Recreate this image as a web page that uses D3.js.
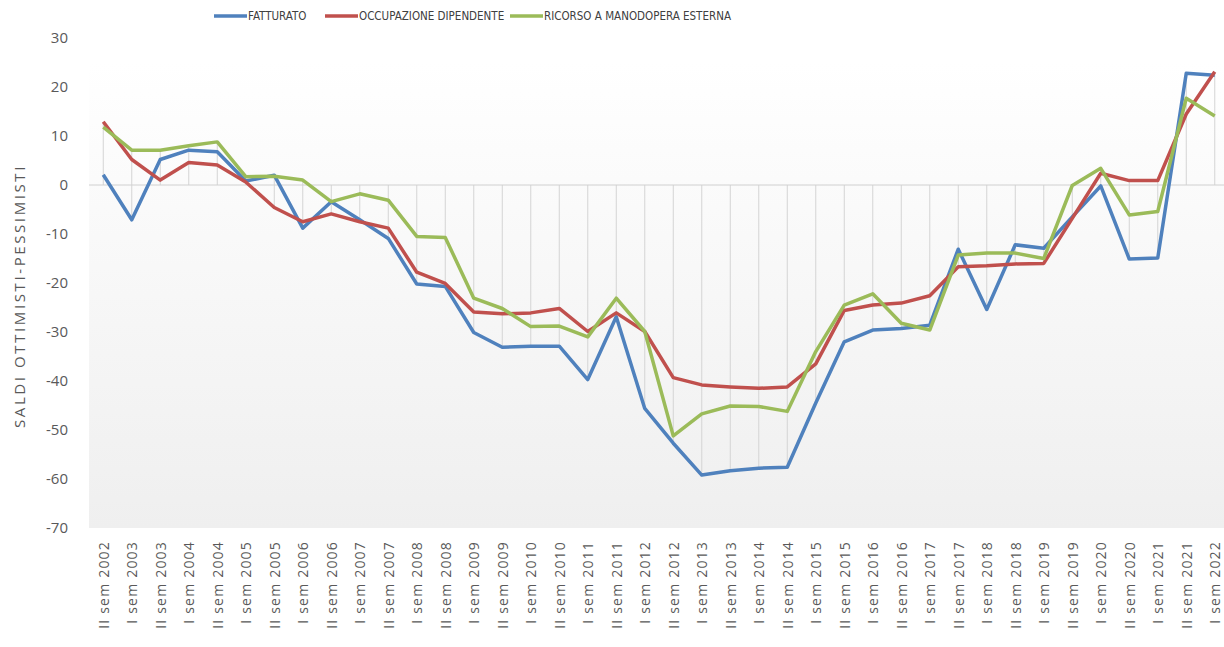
<!DOCTYPE html>
<html>
<head>
<meta charset="utf-8">
<title>Saldi ottimisti-pessimisti</title>
<style>
  body { margin: 0; background: #fff; font-family: "Open Sans", sans-serif; }
  .axis text { fill: #595959; }
  .line { fill: none; stroke-width: 3.5; stroke-linejoin: round; }
</style>
</head>
<body>
<svg width="1224" height="647"></svg>
<script src="https://cdn.jsdelivr.net/npm/d3@7"></script>
<script>
// categories (semesters)
var periods = ["II sem 2002",
  "I sem 2003", "II sem 2003", "I sem 2004", "II sem 2004", "I sem 2005", "II sem 2005",
  "I sem 2006", "II sem 2006", "I sem 2007", "II sem 2007", "I sem 2008", "II sem 2008",
  "I sem 2009", "II sem 2009", "I sem 2010", "II sem 2010", "I sem 2011", "II sem 2011",
  "I sem 2012", "II sem 2012", "I sem 2013", "II sem 2013", "I sem 2014", "II sem 2014",
  "I sem 2015", "II sem 2015", "I sem 2016", "II sem 2016", "I sem 2017", "II sem 2017",
  "I sem 2018", "II sem 2018", "I sem 2019", "II sem 2019", "I sem 2020", "II sem 2020",
  "I sem 2021", "II sem 2021", "I sem 2022"];

var fatturato = [2.1, -7.1, 5.2, 7.1, 6.8, 0.8, 2.0, -8.8, -3.4, -7.1, -10.9, -20.2, -20.7,
  -30.1, -33.1, -32.9, -32.9, -39.7, -26.9, -45.6, -52.7, -59.2, -58.3, -57.8, -57.6,
  -44.5, -32.0, -29.6, -29.3, -28.6, -13.1, -25.4, -12.2, -12.9, -6.5, -0.2, -15.1, -14.9,
  22.8, 22.4];

var occupazione = [12.9, 5.2, 1.0, 4.6, 4.1, 0.6, -4.6, -7.5, -5.9, -7.5, -8.8, -17.8, -20.1,
  -25.9, -26.3, -26.1, -25.2, -29.9, -26.1, -29.9, -39.3, -40.8, -41.2, -41.5, -41.2,
  -36.5, -25.6, -24.5, -24.1, -22.6, -16.7, -16.5, -16.1, -16.0, -6.8, 2.4, 0.9, 0.9,
  14.5, 23.1];

var manodopera = [11.8, 7.1, 7.1, 8.0, 8.8, 1.7, 1.8, 1.0, -3.4, -1.8, -3.1, -10.5, -10.7,
  -23.1, -25.2, -28.9, -28.8, -31.0, -23.1, -29.9, -51.2, -46.7, -45.1, -45.2, -46.2,
  -34.0, -24.5, -22.2, -28.2, -29.6, -14.3, -13.9, -13.9, -15.0, -0.1, 3.4, -6.1, -5.4,
  17.7, 14.1];

var seriesNames = ["FATTURATO", "OCCUPAZIONE DIPENDENTE", "RICORSO A MANODOPERA ESTERNA"];
var seriesColors = ["#4f81bd", "#c0504d", "#9bbb59"];
var yTicks = [30, 20, 10, 0, -10, -20, -30, -40, -50, -60, -70];

var series = [fatturato, occupazione, manodopera].map(function(vals, k) {
  return { name: seriesNames[k], color: seriesColors[k], values: vals };
});

var svg = d3.select("svg"),
    margin = {top: 38, right: -5, bottom: 119, left: 89},
    width = +svg.attr("width") - margin.left - margin.right,
    height = +svg.attr("height") - margin.top - margin.bottom,
    g = svg.append("g").attr("transform", "translate(" + margin.left + "," + margin.top + ")");

var x = d3.scalePoint().domain(periods).range([0, width]).padding(0.5);
var y = d3.scaleLinear().domain([-70, 30]).range([height, 0]);

// plot area with a soft vertical gradient
var grad = svg.append("defs").append("linearGradient")
    .attr("id", "bg").attr("x1", 0).attr("y1", 0).attr("x2", 0).attr("y2", 1);
grad.append("stop").attr("offset", "0%").attr("stop-color", "#ffffff");
grad.append("stop").attr("offset", "100%").attr("stop-color", "#efefef");

g.append("rect")
    .attr("x", 0).attr("y", y(25))
    .attr("width", width).attr("height", height - y(25))
    .attr("fill", "url(#bg)");

// drop lines for each category
g.append("g").selectAll("line")
  .data(periods)
  .enter().append("line")
    .attr("x1", function(d) { return x(d); })
    .attr("x2", function(d) { return x(d); })
    .attr("y1", function(d, i) {
      var m = d3.max(series, function(s) { return s.values[i]; });
      return y(Math.max(0, m));
    })
    .attr("y2", function(d, i) {
      var m = d3.min(series, function(s) { return s.values[i]; });
      return y(Math.min(0, m));
    })
    .attr("stroke", "#d4d4d4")
    .attr("stroke-width", 1);

// zero line
g.append("line")
    .attr("x1", 0).attr("x2", width)
    .attr("y1", y(0)).attr("y2", y(0))
    .attr("stroke", "#d0d0d0").attr("stroke-width", 1);

// y axis
var yAxis = g.append("g")
    .attr("class", "axis")
    .call(d3.axisLeft(y).tickValues(yTicks).tickFormat(String).tickSize(0).tickPadding(21));
yAxis.select(".domain").remove();
yAxis.selectAll("text").style("font", "15px 'Open Sans'").attr("fill", "#595959");

// x axis labels, rotated
var xAxis = g.append("g")
    .attr("class", "axis")
    .attr("transform", "translate(0," + height + ")")
    .call(d3.axisBottom(x).tickSize(0).tickPadding(0));
xAxis.select(".domain").remove();
xAxis.selectAll("text")
    .style("font", "14px 'Open Sans'")
    .style("letter-spacing", "1.2px")
    .attr("fill", "#595959")
    .attr("transform", "rotate(-90)")
    .attr("text-anchor", "end")
    .attr("x", -13)
    .attr("y", 0)
    .attr("dy", "0.35em");

// axis title
svg.append("text")
    .attr("transform", "translate(25,296) rotate(-90)")
    .attr("text-anchor", "middle")
    .attr("fill", "#595959")
    .style("font", "15px 'Open Sans'")
    .style("letter-spacing", "2.6px")
    .text("SALDI OTTIMISTI-PESSIMISTI");

// lines
var line = d3.line()
    .x(function(d, i) { return x(periods[i]); })
    .y(function(d) { return y(d); });

g.selectAll(".line")
  .data(series)
  .enter().append("path")
    .attr("class", "line")
    .attr("stroke", function(d) { return d.color; })
    .attr("d", function(d) { return line(d.values); });

// legend
var legendX = [214, 325, 510];
var legend = svg.append("g").selectAll("g")
  .data(series)
  .enter().append("g")
    .attr("transform", function(d, i) { return "translate(" + legendX[i] + ",16)"; });

legend.append("line")
    .attr("x1", 0).attr("x2", 33)
    .attr("stroke", function(d) { return d.color; })
    .attr("stroke-width", 3.5);

legend.append("text")
    .attr("x", 34)
    .attr("dy", "0.35em")
    .attr("fill", "#404040")
    .style("font", "11.5px 'Liberation Sans Narrow', 'DejaVu Sans Condensed', sans-serif")
    .text(function(d) { return d.name; });
</script>
</body>
</html>
